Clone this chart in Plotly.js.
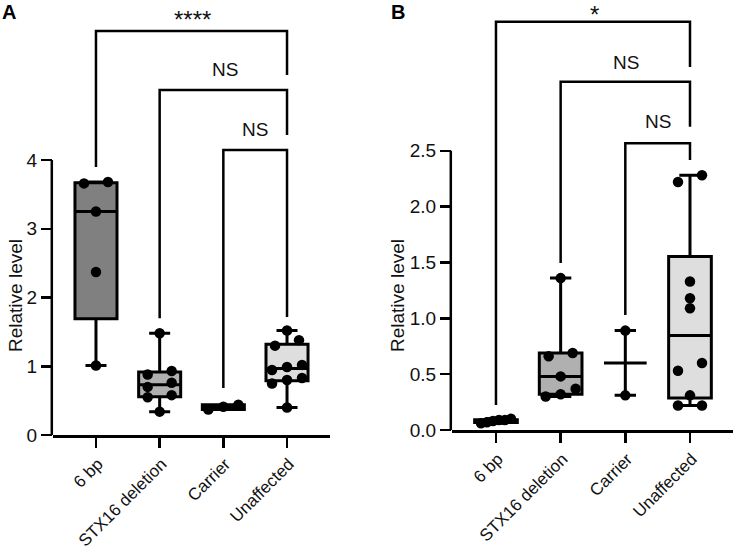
<!DOCTYPE html>
<html>
<head>
<meta charset="utf-8">
<script src="https://cdn.plot.ly/plotly-3.0.1.min.js"></script>
<style>html,body{margin:0;padding:0;background:#fff;}#chart{width:734px;height:552px;}</style>
</head>
<body>
<div id="chart"></div>
<script>
// ---------- data ----------
const categories = ['6 bp', 'STX16 deletion', 'Carrier', 'Unaffected'];

// Panel A (Relative level)
const aSixBp      = [3.68, 3.66, 3.25, 2.37, 1.01];
const aStx16      = [1.48, 0.93, 0.88, 0.76, 0.70, 0.58, 0.55, 0.34];
const aCarrier    = [0.44, 0.41, 0.37];
const aUnaffected = [1.52, 1.38, 1.30, 1.02, 0.99, 0.945, 0.83, 0.80, 0.75, 0.40];

// Panel B (Relative level)
const bSixBp      = [0.10, 0.09, 0.09, 0.08, 0.07, 0.06];
const bStx16      = [1.36, 0.69, 0.66, 0.48, 0.37, 0.32, 0.30];
const bCarrier    = [0.89, 0.31];
const bUnaffected = [2.28, 2.22, 1.33, 1.18, 1.09, 0.60, 0.53, 0.31, 0.22, 0.22];

const aTicks = [0, 1, 2, 3, 4];
const bTicks = [0, 0.5, 1.0, 1.5, 2.0, 2.5];

// significance comparisons: [from index, to index, label]
const aComparisons = [[0, 3, '****'], [1, 3, 'NS'], [2, 3, 'NS']];
const bComparisons = [[0, 3, '*'], [1, 3, 'NS'], [2, 3, 'NS']];

// ---------- styling / geometry ----------
const W = 734, H = 552;
const boxFills = ['#808080', '#b0b0b0', '#c8c8c8', '#dedede'];
const FONT = 'Liberation Sans, Arial, Helvetica, sans-serif';

const panels = [
  { key: '', groups: [aSixBp, aStx16, aCarrier, aUnaffected], ticks: aTicks, tickText: aTicks.map(v => String(v)),
    xdom: [53 / W, 330 / W], xr: [-0.675, 3.675], ydom: [117 / H, 1], yr: [0, 435 / 68.75], axisTop: 4,
    comps: aComparisons,
    brackets: [[5.876, 3.90, 5.236, 1.52, 6.05], [5.018, 1.70, 4.364, 2.03, 5.31], [4.145, 0.684, 1.716, 2.50, 4.44]] },
  { key: '2', groups: [bSixBp, bStx16, bCarrier, bUnaffected], ticks: bTicks, tickText: bTicks.map(v => v.toFixed(1)),
    xdom: [452 / W, 733 / W], xr: [-0.68, 3.665], ydom: [122 / H, 1], yr: [0, 430 / 111.7], axisTop: 2.5,
    comps: bComparisons,
    brackets: [[3.655, 0.224, 3.25, 1.53, 3.72], [3.118, 1.495, 2.715, 2.01, 3.29], [2.567, 1.03, 2.417, 2.50, 2.76]] }
];

function median(s) { const n = s.length; return n % 2 ? s[(n - 1) / 2] : (s[n / 2 - 1] + s[n / 2]) / 2; }
function quant(s, p) {
  const n = s.length, pos = p * (n + 1);
  if (pos <= 1) return s[0];
  if (pos >= n) return s[n - 1];
  const lo = Math.floor(pos), f = pos - lo;
  return s[lo - 1] + f * (s[lo] - s[lo - 1]);
}
function stats(vals) {
  const s = vals.slice().sort((a, b) => a - b);
  const m = median(s);
  const small = s.length < 3;
  return { q1: small ? m : quant(s, 0.25), med: m, q3: small ? m : quant(s, 0.75), lo: s[0], hi: s[s.length - 1] };
}
// simple row-based beeswarm (pixel space)
function swarm(vals, yPx, xPx) {
  const D = 10.5;
  const idx = vals.map((v, i) => i).sort((a, b) => vals[a] - vals[b]);
  const rows = [];
  let cur = null;
  idx.forEach(i => {
    if (!cur || (vals[i] - vals[cur[0]]) * yPx >= D * 0.9) { cur = [i]; rows.push(cur); }
    else cur.push(i);
  });
  const off = new Array(vals.length).fill(0);
  rows.forEach(r => {
    const m = r.length;
    if (m < 2) return;
    const sp = Math.min(24, 30 / (m - 1));
    r.forEach((i, j) => { off[i] = ((j - (m - 1) / 2) * sp) / xPx; });
  });
  return off;
}

const traces = [];
const shapes = [];
const annotations = [];
const layout = {
  width: W, height: H, margin: { l: 0, r: 0, t: 0, b: 0 },
  paper_bgcolor: '#ffffff', plot_bgcolor: 'rgba(0,0,0,0)', showlegend: false,
  font: { family: FONT, color: '#111111' }
};

panels.forEach(p => {
  const xa = 'x' + p.key, ya = 'y' + p.key;
  const xPx = (p.xdom[1] - p.xdom[0]) * W / (p.xr[1] - p.xr[0]);
  const yPx = (p.ydom[1] - p.ydom[0]) * H / (p.yr[1] - p.yr[0]);

  layout['xaxis' + p.key] = {
    domain: p.xdom, range: p.xr, anchor: ya, tickvals: [0, 1, 2, 3], ticktext: categories, tickangle: -45,
    showline: true, linewidth: 2.5, linecolor: '#000', ticks: 'outside', ticklen: 10, tickwidth: 2.5, tickcolor: '#000',
    ticklabelshift: 2,
    showgrid: false, zeroline: false, tickfont: { size: 17, family: FONT, color: '#111' }, fixedrange: true
  };
  layout['yaxis' + p.key] = {
    domain: p.ydom, range: p.yr, anchor: xa, tickvals: p.ticks, ticktext: p.tickText,
    showline: false, ticks: 'outside', ticklen: 11, tickwidth: 2.5, tickcolor: '#000',
    showgrid: false, zeroline: false, tickfont: { size: 19, family: FONT, color: '#111' }, fixedrange: true
  };
  shapes.push({ type: 'line', xref: 'paper', yref: ya, x0: p.xdom[0] - 1.2 / W, x1: p.xdom[0] - 1.2 / W, y0: 0, y1: p.axisTop,
    line: { color: '#000', width: 2.5 } });

  p.groups.forEach((vals, gi) => {
    const s = stats(vals);
    traces.push({
      type: 'box', orientation: 'v', xaxis: xa, yaxis: ya, x: [gi],
      q1: [s.q1], median: [s.med], q3: [s.q3], lowerfence: [s.lo], upperfence: [s.hi],
      width: 0.66, whiskerwidth: 0.5, fillcolor: boxFills[gi], line: { color: '#000', width: 3 },
      boxpoints: false, hoverinfo: 'skip'
    });
    const off = swarm(vals, yPx, xPx);
    traces.push({
      type: 'scatter', mode: 'markers', xaxis: xa, yaxis: ya,
      x: vals.map((v, i) => gi + off[i]), y: vals,
      marker: { size: 10.5, color: '#000' }, cliponaxis: false, hoverinfo: 'skip'
    });
  });

  p.comps.forEach((c, ci) => {
    const [i0, i1, label] = c;
    const [bar, l, r, tx, ty] = p.brackets[ci];
    shapes.push({ type: 'path', xref: xa, yref: ya,
      path: `M ${i0},${l} L ${i0},${bar} L ${i1},${bar} L ${i1},${r}`,
      line: { color: '#000', width: 2.5 } });
    annotations.push({ xref: xa, yref: ya, x: tx, y: ty, text: label, showarrow: false,
      font: { size: label.indexOf('*') >= 0 ? 24 : 19, family: FONT, color: '#111' }, xanchor: 'center', yanchor: 'middle' });
  });
});

annotations.push({ xref: 'paper', yref: 'paper', x: 15 / W, y: 1 - 296 / H, text: 'Relative level', textangle: -90,
  showarrow: false, font: { size: 19, family: FONT, color: '#111' }, xanchor: 'center', yanchor: 'middle' });
annotations.push({ xref: 'paper', yref: 'paper', x: 397 / W, y: 1 - 296 / H, text: 'Relative level', textangle: -90,
  showarrow: false, font: { size: 19, family: FONT, color: '#111' }, xanchor: 'center', yanchor: 'middle' });
annotations.push({ xref: 'paper', yref: 'paper', x: 9 / W, y: 1 - 12 / H, text: '<b>A</b>', showarrow: false,
  font: { size: 20, family: FONT, color: '#000' }, xanchor: 'center', yanchor: 'middle' });
annotations.push({ xref: 'paper', yref: 'paper', x: 397.5 / W, y: 1 - 12 / H, text: '<b>B</b>', showarrow: false,
  font: { size: 20, family: FONT, color: '#000' }, xanchor: 'center', yanchor: 'middle' });

layout.shapes = shapes;
layout.annotations = annotations;

Plotly.newPlot('chart', traces, layout, { staticPlot: true, displayModeBar: false });
</script>
</body>
</html>
